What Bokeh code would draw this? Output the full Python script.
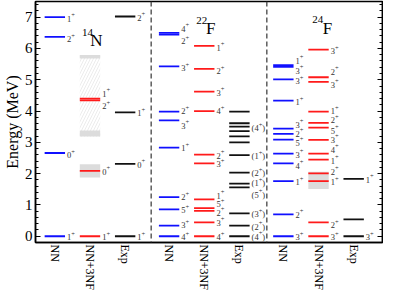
import math
from bokeh.plotting import figure
from bokeh.models import ColumnDataSource, LinearAxis, FixedTicker, Range1d, Span
from bokeh.core.properties import value
from bokeh.embed import file_html
from bokeh.resources import INLINE

FONT = "'Liberation Serif', 'Times New Roman', serif"

# ---------------- data ----------------
nuclei_mass = ["14", "22", "24"]
nuclei_symbol = ["N", "F", "F"]
methods = ["NN", "NN+3NF", "Exp"]
energy_ticks = [0, 1, 2, 3, 4, 5, 6, 7]

# 14N
n14_nn_E = [0.00, 2.66, 6.37, 7.00]
n14_nn_J = ["1+", "0+", "2+", "1+"]
n14_nn_lab = [0.00, 2.62, 6.32, 6.98]
n14_3nf_E = [0.00, 2.09, 4.34, 4.40]
n14_3nf_J = ["1+", "0+", "2+", "1+"]
n14_3nf_lab = [0.00, 2.09, 4.18, 4.58]
n14_exp_E = [0.00, 2.31, 3.96, 7.02]
n14_exp_J = ["1+", "0+", "1+", "2+"]
n14_exp_lab = [0.00, 2.31, 3.96, 7.02]
n14_3nf_band_lo = [1.88]
n14_3nf_band_hi = [2.30]
n14_3nf_hatch_lo = [3.19]
n14_3nf_hatch_hi = [5.79]
n14_3nf_strip_lo = [3.19, 5.68]
n14_3nf_strip_hi = [3.38, 5.79]

# 22F
f22_nn_E = [0.00, 0.34, 0.86, 1.25, 2.83, 3.70, 3.98, 5.43, 6.44, 6.50]
f22_nn_J = ["4+", "3+", "5+", "2+", "1+", "3+", "2+", "3+", "2+", "4+"]
f22_nn_lab = [0.00, 0.39, 0.86, 1.28, 2.85, 3.57, 4.02, 5.40, 6.26, 6.66]
f22_3nf_E = [0.00, 0.44, 0.81, 0.90, 1.18, 2.33, 2.61, 4.00, 4.62, 5.35, 6.08]
f22_3nf_J = ["4+", "3+", "2+", "5+", "1+", "3+", "2+", "4+", "3+", "2+", "1+"]
f22_3nf_lab = [0.00, 0.46, 0.79, 1.05, 1.33, 2.33, 2.61, 4.03, 4.62, 5.31, 6.05]
f22_exp_E = [0.00, 0.34, 0.73, 1.56, 1.68, 2.03, 2.59, 3.00, 3.19, 3.36, 3.50, 3.61, 3.98]
f22_exp_J = ["(4+)", "(2+)", "(3+)", "(5+)", "(1+)", "(2+)", "(1+)", "", "", "", "(4+)", "", ""]
f22_exp_lab = [0.02, 0.34, 0.73, 1.36, 1.72, 2.05, 2.59, 3.00, 3.19, 3.36, 3.49, 3.61, 3.98]

# 24F
f24_nn_E = [0.00, 0.70, 1.76, 2.33, 2.64, 3.09, 3.27, 3.44, 4.33, 5.01, 5.41, 5.47]
f24_nn_J = ["3+", "2+", "1+", "4+", "3+", "5+", "2+", "3+", "1+", "3+", "3+", "1+"]
f24_nn_lab = [0.00, 0.72, 1.76, 2.29, 2.64, 3.02, 3.31, 3.60, 4.32, 4.99, 5.32, 5.64]
f24_3nf_E = [0.00, 0.44, 1.76, 2.01, 2.45, 2.64, 3.08, 3.47, 3.62, 3.98, 4.93, 5.08, 5.96]
f24_3nf_J = ["3+", "2+", "1+", "2+", "1+", "4+", "3+", "5+", "2+", "1+", "3+", "2+", "3+"]
f24_3nf_lab = [0.00, 0.39, 1.76, 2.10, 2.44, 2.79, 3.11, 3.41, 3.73, 4.03, 4.88, 5.29, 5.94]
f24_exp_E = [0.00, 0.54, 1.83]
f24_exp_J = ["3+", "", "1+"]
f24_exp_lab = [0.00, 0.54, 1.83]
f24_3nf_band_lo = [1.51]
f24_3nf_band_hi = [2.06]

# ---------------- layout ----------------
PANEL_STEP = 3.25
FIRST = 0.55
HALF = 0.29
SEPARATORS = [3.29, 6.58]
XMAX = 9.87
COLORS = {"NN": "#1010ff", "NN+3NF": "#ff1a1a", "Exp": "#111111"}


def cat_x(panel, m):
    return round(FIRST + PANEL_STEP * panel + m, 2)


series = [
    (0, "NN", n14_nn_E, n14_nn_J, n14_nn_lab),
    (0, "NN+3NF", n14_3nf_E, n14_3nf_J, n14_3nf_lab),
    (0, "Exp", n14_exp_E, n14_exp_J, n14_exp_lab),
    (1, "NN", f22_nn_E, f22_nn_J, f22_nn_lab),
    (1, "NN+3NF", f22_3nf_E, f22_3nf_J, f22_3nf_lab),
    (1, "Exp", f22_exp_E, f22_exp_J, f22_exp_lab),
    (2, "NN", f24_nn_E, f24_nn_J, f24_nn_lab),
    (2, "NN+3NF", f24_3nf_E, f24_3nf_J, f24_3nf_lab),
    (2, "Exp", f24_exp_E, f24_exp_J, f24_exp_lab),
]

p = figure(width=383, height=292, x_range=Range1d(0, XMAX), y_range=Range1d(-0.2, 7.5),
           output_backend="svg", toolbar_location=None,
           min_border_left=0, min_border_right=1, min_border_top=1, min_border_bottom=0)
p.xgrid.visible = False
p.ygrid.visible = False
p.outline_line_color = "black"
p.outline_line_width = 1.5
p.background_fill_color = "white"

# bands
bx = cat_x(0, 1)
p.quad(left=[bx - HALF] * len(n14_3nf_hatch_lo), right=[bx + HALF] * len(n14_3nf_hatch_lo),
       bottom=n14_3nf_hatch_lo, top=n14_3nf_hatch_hi, fill_color="white", line_color=None,
       hatch_pattern="/", hatch_color="#d8d8d8", hatch_scale=6, hatch_weight=0.5)
p.quad(left=[bx - HALF] * 2, right=[bx + HALF] * 2, bottom=n14_3nf_strip_lo, top=n14_3nf_strip_hi,
       fill_color="#dcdcdc", line_color=None)
p.quad(left=[bx - HALF], right=[bx + HALF], bottom=n14_3nf_band_lo, top=n14_3nf_band_hi,
       fill_color="#dcdcdc", line_color=None)
bx3 = cat_x(2, 1)
p.quad(left=[bx3 - HALF], right=[bx3 + HALF], bottom=f24_3nf_band_lo, top=f24_3nf_band_hi,
       fill_color="#dcdcdc", line_color=None)

for s in SEPARATORS:
    p.add_layout(Span(location=s, dimension="height", line_color="#444444",
                      line_dash="5 3", line_width=1.3))

# levels and labels
MAIN_FS = 8.5
SUP_FS = 6.5
main = dict(x=[], y=[], t=[], xo=[])
sup = dict(x=[], y=[], t=[], xo=[])
tail = dict(x=[], y=[], t=[], xo=[])
for panel, meth, E, J, L in series:
    cx = cat_x(panel, methods.index(meth))
    p.segment(x0=[cx - HALF] * len(E), x1=[cx + HALF] * len(E), y0=E, y1=E,
              line_color=COLORS[meth], line_width=1.8)
    for j, ly in zip(J, L):
        if not j:
            continue
        paren = j.startswith("(")
        core = j.strip("()")
        mtxt = ("(" if paren else "") + core[:-1]
        w = (0.333 if paren else 0.0) * MAIN_FS + 0.5 * MAIN_FS * len(core[:-1])
        main["x"].append(cx + HALF); main["y"].append(ly); main["t"].append(mtxt); main["xo"].append(2.0)
        sup["x"].append(cx + HALF); sup["y"].append(ly); sup["t"].append("+"); sup["xo"].append(2.0 + w)
        if paren:
            tail["x"].append(cx + HALF); tail["y"].append(ly); tail["t"].append(")")
            tail["xo"].append(2.0 + w + 0.564 * SUP_FS)

p.text(x="x", y="y", text="t", x_offset="xo", source=ColumnDataSource(main), y_offset=1,
       text_font=value(FONT), text_font_size=f"{MAIN_FS}px", text_baseline="middle",
       text_align="left", text_color="#333333")
p.text(x="x", y="y", text="t", x_offset="xo", source=ColumnDataSource(sup), y_offset=-2.5,
       text_font=value(FONT), text_font_size=f"{SUP_FS}px", text_baseline="middle",
       text_align="left", text_color="#333333")
p.text(x="x", y="y", text="t", x_offset="xo", source=ColumnDataSource(tail), y_offset=1,
       text_font=value(FONT), text_font_size=f"{MAIN_FS}px", text_baseline="middle",
       text_align="left", text_color="#333333")

# nucleus names
mass_x = [1.32, 4.57, 7.87]
mass_y = [6.50, 6.88, 6.91]
sym_x = [1.56, 4.85, 8.17]
sym_y = [6.25, 6.64, 6.64]
p.text(x=mass_x, y=mass_y, text=nuclei_mass, text_font=value(FONT), text_font_size="11px",
       text_baseline="alphabetic", text_align="left", text_color="black")
p.text(x=sym_x, y=sym_y, text=nuclei_symbol, text_font=value(FONT), text_font_size="17px",
       text_baseline="alphabetic", text_align="left", text_color="black")

# axes
minor = [round(i * 0.2, 1) for i in range(-1, 38) if i % 5 != 0]
yt = FixedTicker(ticks=energy_ticks, minor_ticks=minor)
ya = p.yaxis[0]
ya.ticker = yt
ya.major_tick_in = 5
ya.major_tick_out = 0
ya.minor_tick_in = 3
ya.minor_tick_out = 0
ya.axis_line_width = 1.5
ya.major_tick_line_width = 1.2
ya.minor_tick_line_width = 1.0
ya.major_label_text_font = FONT
ya.major_label_text_font_size = "15px"
ya.major_label_text_color = "black"
ya.major_label_standoff = 3
ya.axis_label = "Energy (MeV)"
ya.axis_label_text_font = FONT
ya.axis_label_text_font_size = "16px"
ya.axis_label_text_font_style = "normal"
ya.axis_label_text_color = "black"
ya.axis_label_standoff = 1

ra = LinearAxis(ticker=yt, major_label_standoff=0,
                major_tick_in=5, major_tick_out=0, minor_tick_in=3, minor_tick_out=0,
                axis_line_width=1.5, major_tick_line_width=1.2, minor_tick_line_width=1.0)
ra.major_label_overrides = {t: "" for t in energy_ticks}
ra.major_label_text_font_size = "1px"
p.add_layout(ra, "right")

xticks = [cat_x(k, m) for k in range(3) for m in range(3)]
xa = p.xaxis[0]
xa.ticker = FixedTicker(ticks=xticks, minor_ticks=[])
xa.major_label_overrides = {t: methods[i % 3] for i, t in enumerate(xticks)}
xa.major_tick_in = 0
xa.major_tick_out = 0
xa.minor_tick_in = 0
xa.minor_tick_out = 0
xa.axis_line_width = 1.5
xa.major_label_orientation = -math.pi / 2
xa.major_label_text_font = FONT
xa.major_label_text_font_size = "12px"
xa.major_label_text_color = "black"
xa.major_label_standoff = 2

open("out.html", "w").write(file_html(p, INLINE))
